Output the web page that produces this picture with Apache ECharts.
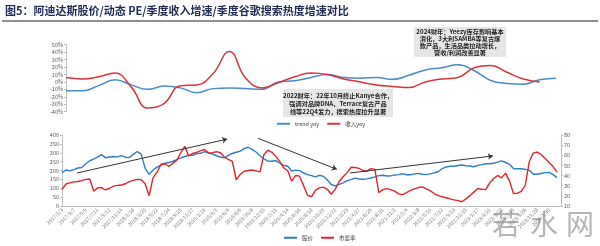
<!DOCTYPE html>
<html><head><meta charset="utf-8">
<script src="https://cdn.jsdelivr.net/npm/echarts@6/dist/echarts.min.js"></script>
<style>html,body{margin:0;padding:0;background:#fff}#c{width:600px;height:246px}</style>
</head><body><div id="c"></div>
<script>
// ---- top chart (quarterly) ----
const quarters = ['2017Q1','2017Q2','2017Q3','2017Q4','2018Q1','2018Q2','2018Q3','2018Q4','2019Q1','2019Q2','2019Q3','2019Q4','2020Q1','2020Q2','2020Q3','2020Q4','2021Q1','2021Q2','2021Q3','2021Q4','2022Q1','2022Q2','2022Q3','2022Q4','2023Q1','2023Q2','2023Q3','2023Q4','2024Q1','2024Q2','2024Q3'];
const trendYoy = [-12,-12,-5,3,-4,-10,-5.5,-8,-14.5,-9,-8,-9,-10,0,1.5,6,10,6,5,6,3.5,9,16,19,23,15,2,-2,-3,3,5];
const revenueYoy = [6,4,7,12,-7,-35,-29,-5,-4,11,41,5,-8,-1,7,12,10,4,0,-4,-6,-7.5,0,4,6,19,22,13,4,0];
const topYTicks = [-40,50,10];

// ---- bottom chart (price / PE) ----
const dateTicks = ['2017/1/3','2017/3/7','2017/5/9','2017/7/11','2017/9/12','2017/11/14','2018/1/16','2018/3/20','2018/5/22','2018/7/24','2018/9/25','2018/11/27','2019/1/29','2019/4/2','2019/6/4','2019/8/6','2019/10/8','2019/12/10','2020/2/11','2020/4/14','2020/6/16','2020/8/18','2020/10/20','2020/12/22','2021/2/23','2021/4/27','2021/6/29','2021/8/31','2021/11/2','2022/1/4','2022/3/8','2022/5/10','2022/7/12','2022/9/13','2022/11/15','2023/1/17','2023/3/21','2023/5/23','2023/7/25','2023/9/26','2023/11/28','2024/1/30'];
const price = [188,203,198,205,214,217,238,255,264,275,
289,271,276,279,277,284,275,273,291,307,
291,212,178,203,219,231,241,245,252,261,
271,279,285,286,295,297,306,298,292,283,
276,271,285,296,303,309,323,331,319,304,
283,265,253,252,256,241,229,224,197,202,
199,186,177,171,164,173,167,146,121,113,
122,130,143,149,157,152,151,153,158,164,
171,173,169,170,175,177,182,176,176,181,
184,179,177,181,187,193,211,220,224,224,
228,231,227,225,221,229,233,238,238,241,
247,254,245,235,211,210,210,206,201,179,
179,183,188,189,177,160];
const pe = [26.1,31.7,32.8,33.8,34.2,35.0,36.3,36.6,24.7,27.9,
28.2,25.8,27.5,29.6,30.3,30.7,31.9,34.0,35.2,36.3,
35.9,31.9,20.2,38.0,43.3,51.1,51.7,48.9,52.0,55.2,
62.5,68.8,59.4,61.8,62.9,64.6,65.7,62.2,62.5,63.6,
62.5,58.3,55.9,54.1,35.9,41.2,44.3,45.0,45.5,44.7,
43.6,60.8,65.0,62.9,59.0,53.8,47.6,44.7,34.5,40.1,
39.4,30.1,20.5,19.1,25.4,27.9,28.6,26.5,21.6,26.6,
34.2,38.9,42.9,48.2,48.0,47.1,45.0,44.3,46.8,46.1,
23.1,26.1,27.2,26.1,24.7,21.9,21.2,23.1,25.4,26.8,
28.2,28.9,26.8,24.9,22.3,20.2,19.1,18.1,17.0,16.1,
15.3,14.2,17.0,20.2,23.7,27.2,26.5,26.1,32.8,37.1,
40.1,37.7,42.4,34.5,22.3,22.6,24.4,30.7,53.8,62.2,
63.2,60.8,56.9,52.9,48.9,43.3];
// trend arrows: [startIndex, startPrice, endIndex, endPrice]
const arrows = [[3.8,186,41.7,377],[49.5,381,69.4,207],[72.7,186,108.8,282]];

const note2024 = ['2024财年：Yeezy库存影响基本','消化，3大利SAMBA等复古爆','款产品，生活品类拉动增长，','营收/利润改善显著'];
const note2022 = ['2022财年：22年10月终止Kanye合作，','强调对品牌DNA、Terrace复古产品','线等22Q4发力，搜索热度拉升显著'];

const FONT = '"Noto Sans CJK SC","Noto Sans",sans-serif';
const chart = echarts.init(document.getElementById('c'), null, {renderer:'canvas'});
const axisGray = '#bfbfbf', labelGray = '#595959';

chart.setOption({
  animation:false,
  textStyle:{fontFamily:FONT},
  grid:[
    {left:66, top:44.7, width:490, height:67},
    {left:62, top:135, width:499, height:71}
  ],
  legend:[
    {data:['trend yoy','收入yoy'], left:272, top:116, itemWidth:13, itemHeight:2, itemGap:8, icon:'rect',
     textStyle:{fontSize:5.5, color:'#404040', fontFamily:FONT}},
    {data:['股价','市盈率'], left:279, top:230, itemWidth:13, itemHeight:2, itemGap:8, icon:'rect',
     textStyle:{fontSize:5.5, color:'#404040', fontFamily:FONT}}
  ],
  xAxis:[
    {gridIndex:0, type:'category', data:quarters, boundaryGap:false, show:false},
    {gridIndex:1, type:'value', min:0, max:126, interval:3,
     axisLine:{lineStyle:{color:axisGray}}, axisTick:{show:false}, splitLine:{show:false},
     axisLabel:{rotate:45, fontSize:5, color:'#707070', margin:3, showMaxLabel:false,
       formatter:v=>dateTicks[v/3]||''}}
  ],
  yAxis:[
    {gridIndex:0, type:'value', min:topYTicks[0], max:topYTicks[1], interval:topYTicks[2],
     axisLine:{show:true, lineStyle:{color:axisGray}}, axisTick:{show:true, length:2, lineStyle:{color:axisGray}},
     splitLine:{show:false}, axisLabel:{fontSize:5.5, color:labelGray, margin:3, formatter:'{value}%'}},
    {gridIndex:1, type:'value', min:0, max:400, interval:50,
     axisLine:{show:true, lineStyle:{color:axisGray}}, axisTick:{show:true, length:2, lineStyle:{color:axisGray}},
     splitLine:{show:false}, axisLabel:{fontSize:5.5, color:labelGray, margin:3}},
    {gridIndex:1, type:'value', position:'right', min:10, max:80, interval:10,
     axisLine:{show:true, lineStyle:{color:axisGray}}, axisTick:{show:true, length:2, lineStyle:{color:axisGray}},
     splitLine:{show:false}, axisLabel:{fontSize:5.5, color:labelGray, margin:3}}
  ],
  series:[
    {name:'trend yoy', type:'line', xAxisIndex:0, yAxisIndex:0, data:trendYoy, smooth:0.45, showSymbol:false,
     lineStyle:{color:'#4a8cc6', width:1.5}, itemStyle:{color:'#4a8cc6'}},
    {name:'收入yoy', type:'line', xAxisIndex:0, yAxisIndex:0, data:revenueYoy, smooth:0.45, showSymbol:false,
     lineStyle:{color:'#d8343c', width:1.5}, itemStyle:{color:'#d8343c'}},
    {name:'股价', type:'line', xAxisIndex:1, yAxisIndex:1, data:price.map((v,i)=>[i,v]), showSymbol:false,
     lineStyle:{color:'#2f7cc0', width:1.4}, itemStyle:{color:'#2f7cc0'},
     markLine:{silent:true, symbol:['none','arrow'], symbolSize:5, label:{show:false},
       lineStyle:{color:'#333', width:1, type:'solid'},
       data:arrows.map(a=>[{coord:[a[0],a[1]]},{coord:[a[2],a[3]]}])}},
    {name:'市盈率', type:'line', xAxisIndex:1, yAxisIndex:2, data:pe.map((v,i)=>[i,v]), showSymbol:false,
     lineStyle:{color:'#e3242b', width:1.4}, itemStyle:{color:'#e3242b'}}
  ],
  graphic:[
    {type:'text', left:5, top:5, style:{text:'图5：阿迪达斯股价/动态 PE/季度收入增速/季度谷歌搜索热度增速对比', font:'bold 11px '+FONT, fill:'#1f2a55'}},
    {type:'line', shape:{x1:2,y1:21,x2:598,y2:21}, style:{stroke:'#222', lineWidth:1.2}},
    {type:'rect', shape:{x:414,y:27,width:92,height:30}, style:{fill:'#e6e6e6'}},
    {type:'text', x:460, y:28.5, style:{text:note2024.join('\n'), font:'bold 6.2px '+FONT, fill:'#222', align:'center', lineHeight:7}},
    {type:'rect', shape:{x:283,y:89,width:110,height:28}, style:{fill:'#e6e6e6'}},
    {type:'text', x:338, y:91.5, style:{text:note2022.join('\n'), font:'bold 6.2px '+FONT, fill:'#222', align:'center', lineHeight:8}},
    {type:'text', x:492, y:210, style:{text:'若', font:'28px '+FONT, fill:'#b5b5b5'}},
    {type:'text', x:530, y:210, style:{text:'水', font:'28px '+FONT, fill:'#b5b5b5'}},
    {type:'text', x:566, y:210, style:{text:'网', font:'28px '+FONT, fill:'#b5b5b5'}}
  ]
});
</script></body></html>
